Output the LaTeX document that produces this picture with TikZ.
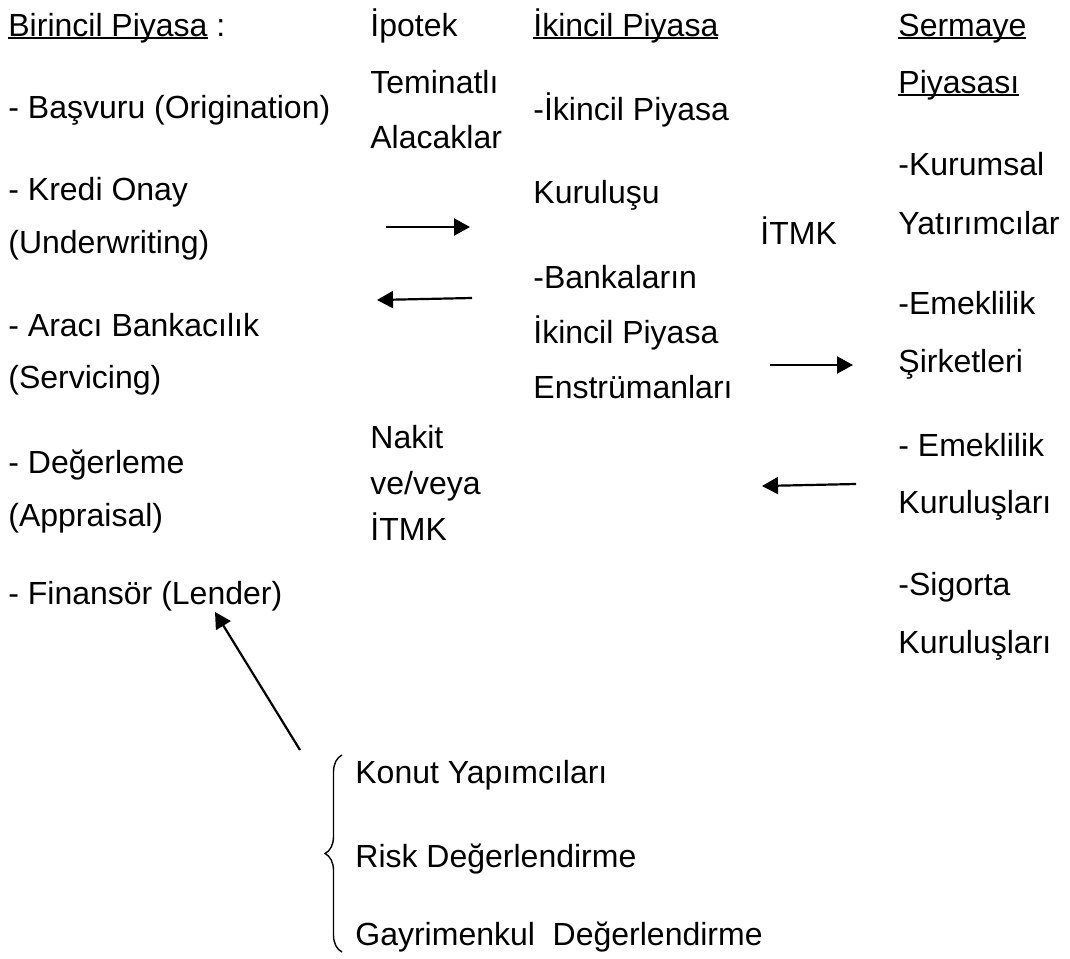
\documentclass[tikz,border=0pt]{standalone}
\usepackage{fontspec}
\setmainfont{Liberation Sans}
\usetikzlibrary{arrows.meta, decorations.pathreplacing}

\newcommand{\ulined}[1]{\setbox0\hbox{#1}\rlap{\rule[-1.6pt]{\wd0}{0.9pt}}\box0\relax}

\begin{document}
\begin{tikzpicture}[x=0.5pt, y=-0.5pt,
    lbl/.style={anchor=base west, inner sep=0pt, font=\fontsize{16pt}{19pt}\selectfont},
    flow/.style={line width=1.1pt, -{Triangle[length=8pt,width=8.5pt]}}]
  \useasboundingbox (0,0) rectangle (1070,958);
  % birincil piyasa
  \node[lbl] (b0) at (8,36) {\ulined{Birincil Piyasa} :};
  \node[lbl] (b1) at (8,118) {- Başvuru (Origination)};
  \node[lbl] (b2) at (8,200) {- Kredi Onay};
  \node[lbl] (b3) at (8,253) {(Underwriting)};
  \node[lbl] (b4) at (8,336) {- Aracı Bankacılık};
  \node[lbl] (b5) at (8,388) {(Servicing)};
  \node[lbl] (b6) at (8,473) {- Değerleme};
  \node[lbl] (b7) at (8,526) {(Appraisal)};
  \node[lbl] (b8) at (8,604) {- Finansör (Lender)};
  % ipotek / nakit
  \node[lbl] (p1) at (370,36) {İpotek};
  \node[lbl] (p2) at (370,93) {Teminatlı};
  \node[lbl] (p3) at (370,148) {Alacaklar};
  \node[lbl] (n1) at (370,448) {Nakit};
  \node[lbl] (n2) at (370,494) {ve/veya};
  \node[lbl] (n3) at (370,540) {İTMK};
  % ikincil piyasa
  \node[lbl] (i0) at (533,36) {\ulined{İkincil Piyasa}};
  \node[lbl] (i1) at (533,120) {-İkincil Piyasa};
  \node[lbl] (i2) at (533,203) {Kuruluşu};
  \node[lbl] (i3) at (533,288) {-Bankaların};
  \node[lbl] (i4) at (533,343) {İkincil Piyasa};
  \node[lbl] (i5) at (533,398) {Enstrümanları};
  \node[lbl] (itmk) at (760,244) {İTMK};
  % sermaye piyasasi
  \node[lbl] (s0) at (898,36) {\ulined{Sermaye}};
  \node[lbl] (s1) at (898,93) {\ulined{Piyasası}};
  \node[lbl] (s2) at (898,175) {-Kurumsal};
  \node[lbl] (s3) at (898,234) {Yatırımcılar};
  \node[lbl] (s4) at (898,314) {-Emeklilik};
  \node[lbl] (s5) at (898,372) {Şirketleri};
  \node[lbl] (s6) at (898,456) {- Emeklilik};
  \node[lbl] (s7) at (898,513) {Kuruluşları};
  \node[lbl] (s8) at (898,595) {-Sigorta};
  \node[lbl] (s9) at (898,653) {Kuruluşları};
  % alt grup
  \node[lbl] (k1) at (355,783) {Konut Yapımcıları};
  \node[lbl] (k2) at (355,867) {Risk Değerlendirme};
  \node[lbl] (k3) at (355,945) {Gayrimenkul\ \ Değerlendirme};
  \draw[line width=0.7pt, decorate, decoration={brace, amplitude=8.5pt}]
    (342,952) -- (342,755);
  % arrows
  \coordinate (a1s) at (386,227); \coordinate (a1e) at (470,227);
  \coordinate (a2s) at (472,298); \coordinate (a2e) at (377,300);
  \coordinate (a3s) at (770,365); \coordinate (a3e) at (853,365);
  \coordinate (a4s) at (856,484); \coordinate (a4e) at (762,486);
  \coordinate (a5s) at (300,750); \coordinate (a5e) at (215,612);
  \draw[flow] (a1s) -- (a1e);
  \draw[flow] (a2s) -- (a2e);
  \draw[flow] (a3s) -- (a3e);
  \draw[flow] (a4s) -- (a4e);
  \draw[flow] (a5s) -- (a5e);
\end{tikzpicture}
\end{document}
